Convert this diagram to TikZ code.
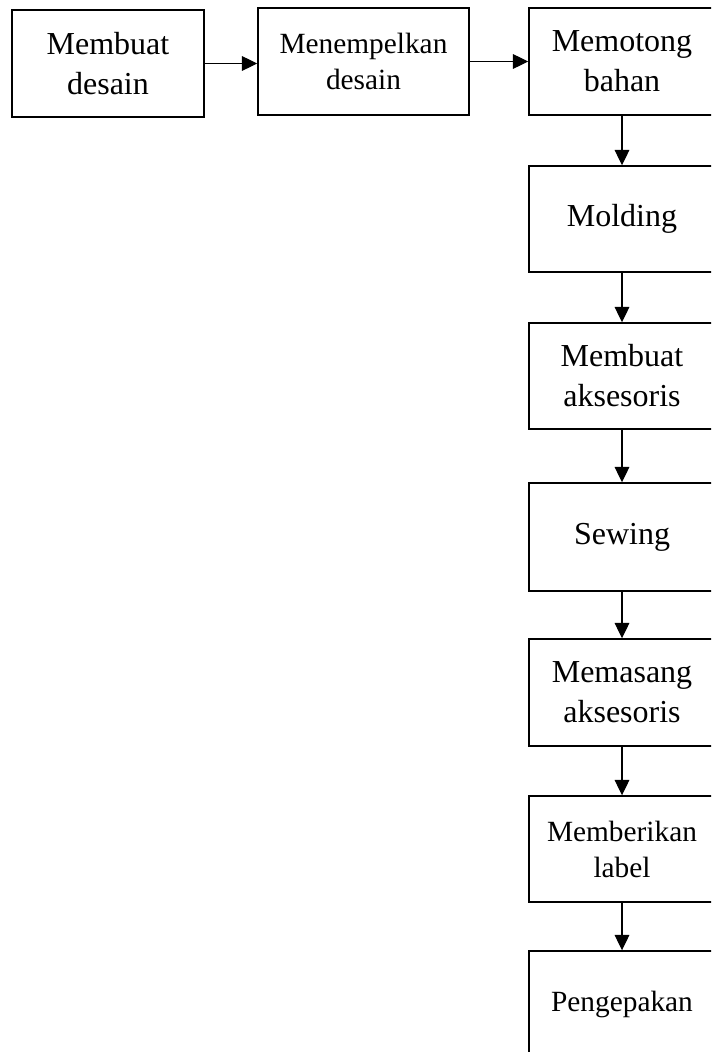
\documentclass[tikz,border=0pt]{standalone}
\usepackage{fontspec}
\setmainfont{Liberation Serif}
\usetikzlibrary{arrows.meta}
\begin{document}
\begin{tikzpicture}[x=0.75pt,y=-0.75pt,
  box/.style={draw, line width=1.1pt, inner sep=0pt, align=center, minimum height=80.25pt},
  big/.style={font=\fontsize{24}{30}\selectfont},
  small/.style={font=\fontsize{22}{27}\selectfont},
  colbox/.style={box, minimum width=139.5pt},
  arr/.style={-{Triangle[length=11.5pt,width=11pt]}, line width=0.85pt}]
\useasboundingbox (0,0) rectangle (711,1052);
\clip (0,0) rectangle (711,1052);
\node[box,big,minimum width=144pt] (a) at (108,63.5) {Membuat\\desain};
\node[box,small,minimum width=158.25pt] (b) at (363.5,61.5) {Menempelkan\\desain};
\node[colbox,big] (c) at (622,61.5) {Memotong\\bahan};
\node[colbox,big,minimum height=79.5pt] (d) at (622,219) {Molding};
\node[colbox,big,minimum height=79.5pt] (e) at (622,376) {Membuat\\aksesoris};
\node[colbox,big,minimum height=81pt] (f) at (622,537) {Sewing};
\node[colbox,big] (g) at (622,692.5) {Memasang\\aksesoris};
\node[colbox,small,minimum height=79.5pt] (h) at (622,849) {Memberikan\\label};
\node[colbox,small,minimum height=79.5pt] (i) at (622,1004) {Pengepakan};
\draw[arr] (a.east) -- (a.east -| b.west);
\draw[arr] (b.east) -- (b.east -| c.west);
\draw[arr] (c.south) -- (d.north);
\draw[arr] (d.south) -- (e.north);
\draw[arr] (e.south) -- (f.north);
\draw[arr] (f.south) -- (g.north);
\draw[arr] (g.south) -- (h.north);
\draw[arr] (h.south) -- (i.north);
\end{tikzpicture}
\end{document}
